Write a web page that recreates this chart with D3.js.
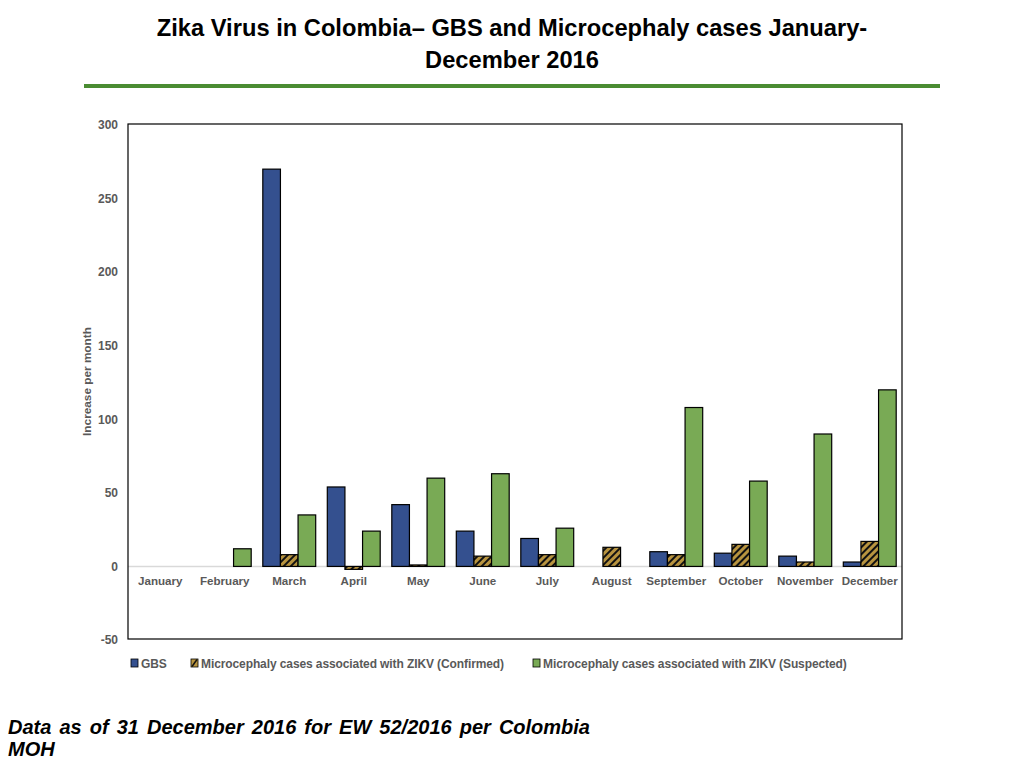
<!DOCTYPE html>
<html>
<head>
<meta charset="utf-8">
<script src="https://cdn.jsdelivr.net/npm/d3@7"></script>
<style>
  body { margin: 0; background: #fff; }
  text { font-family: "Liberation Sans", Arial, Helvetica, sans-serif; }
</style>
</head>
<body>
<svg id="chart" width="1024" height="768"></svg>
<script>
// data
var months = ["January", "February", "March", "April", "May", "June",
              "July", "August", "September", "October", "November", "December"];
var gbs       = [0, 0, 270, 54, 42, 24, 19, 0, 10, 9, 7, 3];
var confirmed = [0, 0, 8, -2, 1, 7, 8, 13, 8, 15, 3, 17];
var suspected = [0, 12, 35, 24, 60, 63, 26, 0, 108, 58, 90, 120];
var seriesNames = ["GBS",
                   "Microcephaly cases associated with ZIKV (Confirmed)",
                   "Microcephaly cases associated with ZIKV (Suspected)"];
var yTicks = [300, 250, 200, 150, 100, 50, 0, -50];

var svg = d3.select("#chart");
var plot = { left: 128, top: 124, right: 902, bottom: 639 };
var grey = "#595959";

var defs = svg.append("defs");

// diagonal hatch for the confirmed series
var hatch = defs.append("pattern")
    .attr("id", "hatch")
    .attr("patternUnits", "userSpaceOnUse")
    .attr("width", 5).attr("height", 5)
    .attr("patternTransform", "rotate(45)");
hatch.append("rect").attr("width", 5).attr("height", 5).attr("fill", "#b8943f");
hatch.append("rect").attr("width", 2).attr("height", 5).attr("fill", "#111");

var fills = ["#34508f", "url(#hatch)", "#79aa55"];

// title
svg.append("text")
    .attr("x", 512).attr("y", 36)
    .attr("text-anchor", "middle")
    .style("font-size", "23.7px").style("font-weight", "bold")
    .text("Zika Virus in Colombia\u2013 GBS and Microcephaly cases January-");
svg.append("text")
    .attr("x", 512).attr("y", 68)
    .attr("text-anchor", "middle")
    .style("font-size", "23.7px").style("font-weight", "bold")
    .text("December 2016");

svg.append("rect")
    .attr("x", 84).attr("y", 84)
    .attr("width", 856).attr("height", 4)
    .attr("fill", "#4a8c32");

// scales
var x = d3.scaleBand()
    .domain(months)
    .range([plot.left, plot.right])
    .paddingInner(0.18)
    .paddingOuter(0.09);

var xs = d3.scaleBand()
    .domain(d3.range(3))
    .range([0, x.bandwidth()]);

var y = d3.scaleLinear()
    .domain([-50, 300])
    .range([plot.bottom + 1, plot.top + 1]);

// zero line
svg.append("line")
    .attr("x1", plot.left).attr("x2", plot.right)
    .attr("y1", y(0)).attr("y2", y(0))
    .attr("stroke", "#d9d9d9").attr("stroke-width", 1.5);

// bars
var rows = [];
months.forEach(function(m, i) {
    [gbs[i], confirmed[i], suspected[i]].forEach(function(v, s) {
        if (v !== 0) rows.push({ month: m, s: s, v: v });
    });
});

svg.append("g")
    .selectAll("rect")
    .data(rows)
    .enter()
    .append("rect")
        .attr("x", d => x(d.month) + xs(d.s))
        .attr("y", d => y(Math.max(0, d.v)))
        .attr("width", xs.bandwidth())
        .attr("height", d => Math.abs(y(d.v) - y(0)))
        .attr("fill", d => fills[d.s])
        .attr("stroke", "#000")
        .attr("stroke-width", 1.2);

// plot frame
svg.append("rect")
    .attr("x", plot.left).attr("y", plot.top)
    .attr("width", plot.right - plot.left)
    .attr("height", plot.bottom - plot.top)
    .attr("fill", "none")
    .attr("stroke", "#000")
    .attr("stroke-width", 1.2);

// y axis labels
var yAxis = d3.axisLeft(y).tickValues(yTicks).tickFormat(d => String(d)).tickSize(0).tickPadding(10);
var yg = svg.append("g")
    .attr("transform", "translate(" + plot.left + ",0)")
    .call(yAxis);
yg.select(".domain").remove();
yg.selectAll("text")
    .attr("fill", grey)
    .style("font-size", "12px").style("font-weight", "bold")
    .style("font-family", "'Liberation Sans', Arial, sans-serif");

// month labels
var xAxis = d3.axisBottom(x).tickSize(0).tickPadding(10);
var xg = svg.append("g")
    .attr("transform", "translate(0," + y(0) + ")")
    .call(xAxis);
xg.select(".domain").remove();
xg.selectAll("text")
    .attr("fill", grey)
    .style("font-size", "11.6px").style("font-weight", "bold")
    .style("font-family", "'Liberation Sans', Arial, sans-serif");

// y title
svg.append("text")
    .attr("transform", "translate(91," + ((plot.top + plot.bottom) / 2) + ") rotate(-90)")
    .attr("text-anchor", "middle")
    .attr("fill", grey)
    .style("font-size", "11.8px").style("font-weight", "bold")
    .text("Increase per month");

// legend
var legendX = [131, 191, 533];
var legend = svg.append("g")
    .selectAll("g")
    .data(seriesNames)
    .enter()
    .append("g")
        .attr("transform", (d, i) => "translate(" + legendX[i] + ",659)");
legend.append("rect")
    .attr("width", 7).attr("height", 8)
    .attr("fill", (d, i) => i === 1 ? "#b8943f" : fills[i])
    .attr("stroke", "#000").attr("stroke-width", 0.8);
legend.filter((d, i) => i === 1).append("line")
    .attr("x1", 1).attr("y1", 7.5).attr("x2", 6).attr("y2", 0.5)
    .attr("stroke", "#111").attr("stroke-width", 1.5);
legend.append("text")
    .attr("x", 10).attr("y", 8.5)
    .attr("fill", grey)
    .style("font-size", "12px").style("font-weight", "bold")
    .style("letter-spacing", "-0.1px")
    .text(d => d);

// footnote, justified on the first line
var footLine = "Data as of 31 December 2016 for EW 52/2016 per Colombia";
var foot1 = svg.append("text")
    .attr("x", 8).attr("y", 734)
    .style("font-size", "20px").style("font-weight", "bold").style("font-style", "italic")
    .text(footLine);
var len = foot1.node().getComputedTextLength();
var gaps = footLine.split(" ").length - 1;
foot1.style("word-spacing", ((582 - len) / gaps) + "px");
svg.append("text")
    .attr("x", 8).attr("y", 756)
    .style("font-size", "20px").style("font-weight", "bold").style("font-style", "italic")
    .text("MOH");
</script>
</body>
</html>
